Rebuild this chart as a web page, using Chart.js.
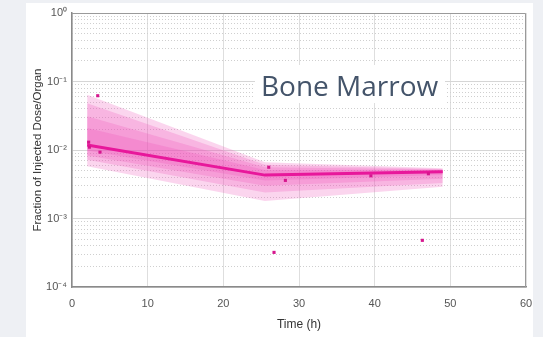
<!DOCTYPE html>
<html>
<head>
<meta charset="utf-8">
<script src="https://cdn.jsdelivr.net/npm/chart.js@4"></script>
<style>
  html, body { margin: 0; padding: 0; background: #eef0f4; }
  body { width: 543px; height: 337px; position: relative; overflow: hidden; }
  #panel { position: absolute; left: 26px; top: 3px; width: 507px; height: 334px; background: #fff; }
  #organ {
    position: absolute; left: 255px; top: 65px; width: 190px; height: 38px;
    background: #fff; box-sizing: border-box; padding: 6px 0 0 6px;
    font-family: "Open Sans", sans-serif; font-size: 28px; line-height: 28px;
    color: #44546a; white-space: nowrap;
  }
</style>
</head>
<body>
<div id="panel"><canvas id="chart"></canvas></div>
<div id="organ">Bone Marrow</div>
<script>
// observed data (time in h, fraction of injected dose)
const obsTime = [2.2, 2.3, 3.4, 3.7, 26.0, 26.7, 28.2, 39.5, 46.3, 47.1];
const obsFrac = [0.013, 0.011, 0.062, 0.0093, 0.0056, 0.00032, 0.0036, 0.0042, 0.00048, 0.0045];

// model fit: median line and nested uncertainty bands (outer -> inner)
const fitTime = [2, 25.5, 49];
const fitMedian = [0.0118, 0.0043, 0.0048];
const bandUpper = [
    [0.064, 0.0066, 0.0054],
    [0.048, 0.0061, 0.0053],
    [0.031, 0.0056, 0.0052],
    [0.021, 0.0051, 0.0051]
];
const bandLower = [
    [0.0058, 0.0018, 0.0029],
    [0.0072, 0.0024, 0.0033],
    [0.0083, 0.003, 0.0038],
    [0.0098, 0.0036, 0.0043]
];

const xTicks = [0, 10, 20, 30, 40, 50, 60];
const yTicks = [1e-4, 1e-3, 1e-2, 1e-1, 1];
const supDigits = { "0": "\u2070", "1": "\u00b9", "2": "\u00b2", "3": "\u00b3", "4": "\u2074", "-": "\u207b" };

function powLabel(v) {
    const e = Math.round(Math.log10(v));
    return "10" + String(e).split("").map(c => supDigits[c]).join("");
}

// minor decade grid (2..9 x 10^n)
const yMinor = [];
for (let i = 0; i < yTicks.length - 1; i++) {
    for (let k = 2; k <= 9; k++) yMinor.push(yTicks[i] * k);
}

const toPts = (xs, ys) => xs.map((x, i) => ({ x: x, y: ys[i] }));

const datasets = [];
datasets.push({
    type: "scatter",
    data: toPts(obsTime, obsFrac),
    pointStyle: "rect",
    pointRadius: 2.2,
    backgroundColor: "#d6168e",
    borderColor: "#d6168e",
    borderWidth: 0,
    order: 0
});
datasets.push({
    type: "line",
    data: toPts(fitTime, fitMedian),
    borderColor: "#e8179b",
    borderWidth: 3,
    pointRadius: 0,
    fill: false,
    order: 1
});
bandUpper.forEach((up, b) => {
    datasets.push({
        type: "line",
        data: toPts(fitTime, up),
        borderWidth: 0,
        borderColor: "transparent",
        pointRadius: 0,
        backgroundColor: "rgba(238, 80, 182, 0.24)",
        fill: "+1",
        order: 2
    });
    datasets.push({
        type: "line",
        data: toPts(fitTime, bandLower[b]),
        borderWidth: 0,
        borderColor: "transparent",
        pointRadius: 0,
        fill: false,
        order: 2
    });
});

const boxPlugin = {
    id: "box",
    afterDraw(chart) {
        const a = chart.chartArea;
        const ctx = chart.ctx;
        ctx.save();
        ctx.strokeStyle = "#9a9a9a";
        ctx.lineWidth = 1;
        ctx.beginPath();
        ctx.moveTo(a.left, a.top + 0.5);
        ctx.lineTo(a.right - 0.5, a.top + 0.5);
        ctx.lineTo(a.right - 0.5, a.bottom);
        ctx.stroke();
        ctx.restore();
    }
};

const tickFont = { family: "'Liberation Sans', Arial, sans-serif", size: 11 };

new Chart(document.getElementById("chart"), {
    type: "line",
    data: { datasets: datasets },
    plugins: [boxPlugin],
    options: {
        responsive: true,
        maintainAspectRatio: false,
        animation: false,
        layout: { padding: { top: 10, right: 7, bottom: 3, left: 0 } },
        plugins: { legend: { display: false }, tooltip: { enabled: false } },
        scales: {
            x: {
                type: "linear",
                min: 0,
                max: 60,
                afterBuildTicks: s => { s.ticks = xTicks.map(v => ({ value: v })); },
                afterFit: s => { s.height = 47; s.paddingLeft = 0; s.paddingRight = 0; },
                ticks: { font: tickFont, color: "#555", padding: 10, maxRotation: 0 },
                grid: { color: "#dedede", drawTicks: false },
                border: { color: "#8a8a8a", width: 1.5 },
                title: { display: true, text: "Time (h)", color: "#333", padding: { top: 0, bottom: 2 },
                    font: { family: "'Liberation Sans', Arial, sans-serif", size: 12 } }
            },
            y: {
                type: "logarithmic",
                min: 1e-4,
                max: 1,
                afterBuildTicks: s => { s.ticks = yTicks.map(v => ({ value: v })); },
                afterFit: s => { s.width = 46; s.paddingTop = 0; s.paddingBottom = 0; },
                ticks: { font: tickFont, color: "#555", padding: 5, autoSkip: false, callback: v => powLabel(v) },
                grid: { color: "#d6d6d6", drawTicks: false },
                border: { color: "#8a8a8a", width: 1.5 },
                title: { display: true, text: "Fraction of Injected Dose/Organ", color: "#333", padding: { top: 5, bottom: 0 },
                    font: { family: "'Liberation Sans', Arial, sans-serif", size: 11.5 } }
            },
            yMinor: {
                type: "logarithmic",
                position: "right",
                min: 1e-4,
                max: 1,
                afterBuildTicks: s => { s.ticks = yMinor.map(v => ({ value: v })); },
                afterFit: s => { s.width = 0; s.paddingTop = 0; s.paddingBottom = 0; },
                ticks: { display: false },
                grid: { color: "#cfcfcf", drawTicks: false },
                border: { display: false, dash: [1, 2] }
            }
        }
    }
});
</script>
</body>
</html>
